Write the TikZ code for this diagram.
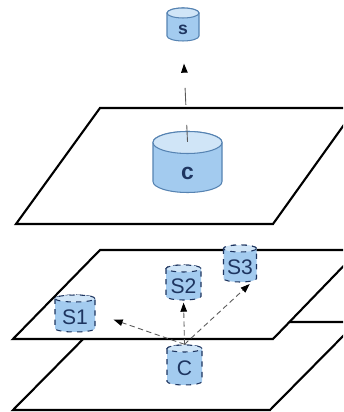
\documentclass[tikz,border=0pt]{standalone}
\usepackage{fontspec}
\setmainfont{Liberation Sans}
\usepackage{tikz}
\usetikzlibrary{arrows.meta, positioning, calc}
\definecolor{cylbody}{HTML}{A3CBEF}
\definecolor{cyltop}{HTML}{D0E5F7}
\definecolor{cyledge}{HTML}{5683B2}
\definecolor{cyltext}{HTML}{1E3560}
% #1 name, #2 centre, #3 width, #4 height, #5 lid radius, #6 line style,
% #7 font, #8 text
\newcommand{\store}[8]{%
  \draw[#6, fill=cylbody] ($#2+({-#3/2},{#4/2-#5})$) -- ($#2+({-#3/2},{-#4/2+#5})$)
    arc[start angle=180, end angle=360, x radius=#3/2, y radius=#5]
    -- ($#2+({#3/2},{#4/2-#5})$)
    arc[start angle=0, end angle=180, x radius=#3/2, y radius=#5] -- cycle;
  \draw[#6, fill=cyltop] ($#2+(0,{#4/2-#5})$) ellipse[x radius=#3/2, y radius=#5];
  \node[minimum width=#3cm, minimum height=#4cm, inner sep=0pt] (#1) at #2 {};
  \node[text=cyltext, font=#7, inner sep=0pt] (#1-t) at ($#2+(0,-#5)$) {#8};
}
\tikzset{
  solidcyl/.style={draw=cyledge, line width=0.6pt},
  dashcyl/.style={draw=cyltext, line width=0.6pt, dashed},
  layer/.style={draw, fill=white, line width=1.2pt, line join=miter},
  flow/.style={->, black!65, line width=0.5pt}
}

\begin{document}
\begin{tikzpicture}[>={Triangle[length=1.8mm, width=1.3mm, color=black]},
          line width=0.8pt]
        \clip (0,0) rectangle (6.86,8.24);
        % upper layer, then the two stacked ones below
        \draw[layer] (2.0,6.08) -- (7.12,6.08) -- (5.46,3.76) -- (0.32,3.76) -- cycle;
        \draw[layer] (2.0,1.8) -- (7.14,1.8) -- (5.4,0.04) -- (0.26,0.04) -- cycle;
        \draw[layer] (2.0,3.24) -- (7.18,3.24) -- (5.46,1.46) -- (0.26,1.46) -- cycle;
        \store{s}{(3.66,7.75)}{0.64}{0.66}{0.10}{solidcyl}{\fontsize{10}{12}\bfseries}{s}
        \store{c}{(3.75,5.00)}{1.38}{1.22}{0.22}{solidcyl}{\fontsize{13}{15}\bfseries}{c}
        \draw[flow, dash pattern=on 0.34cm off 0.4cm, shorten >=0.44cm]
          ([yshift=-0.22cm]c.north) -- (s.south);
        % lower layer: one store fanned out to three
        \store{s1}{(1.50,1.97)}{0.80}{0.74}{0.07}{dashcyl}{\fontsize{12}{14}\selectfont}{S1}
        \store{s2}{(3.67,2.59)}{0.70}{0.70}{0.07}{dashcyl}{\fontsize{12}{14}\selectfont}{S2}
        \store{s3}{(4.80,2.97)}{0.66}{0.74}{0.07}{dashcyl}{\fontsize{12}{14}\selectfont}{S3}
        \store{cc}{(3.69,0.94)}{0.70}{0.80}{0.07}{dashcyl}{\fontsize{12}{14}\selectfont}{C}
        \foreach \t/\g in {s1.east/0.38, s2.south/0.04, s3.-60/0.04}{
          \draw[flow, densely dashed, shorten >=\g cm] (cc.north) -- (\t);
        }
      \end{tikzpicture}
\end{document}
